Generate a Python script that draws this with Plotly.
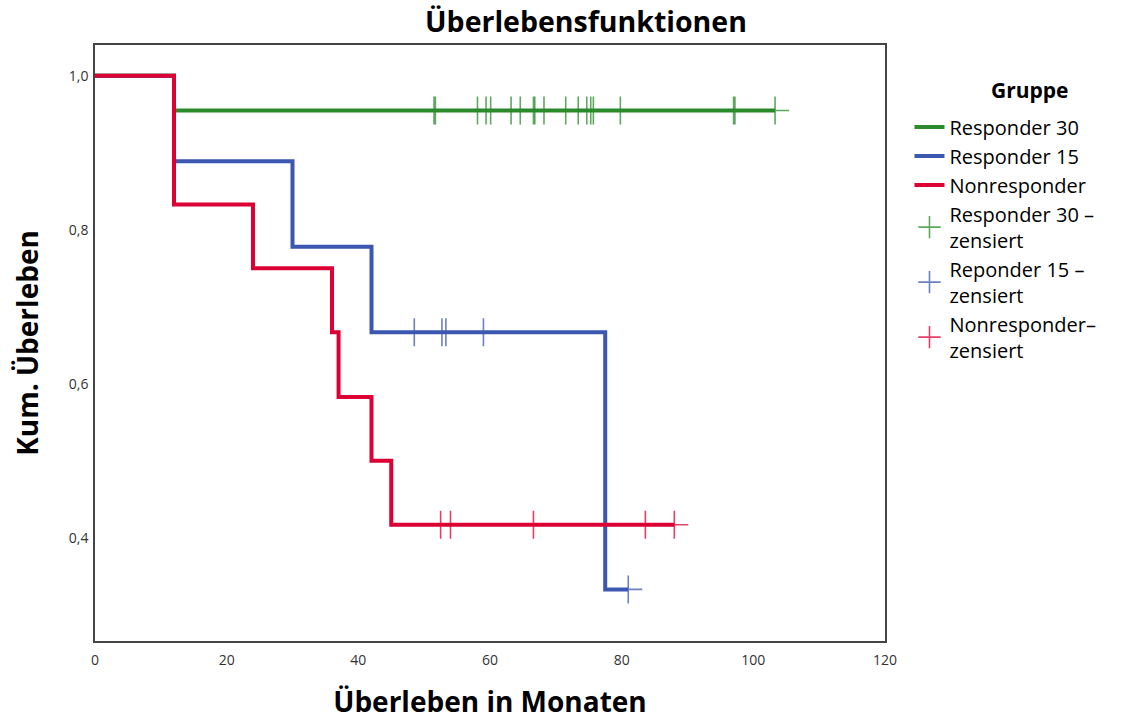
import plotly.graph_objects as go

# ---- data ----
r30_time = [0, 12, 103.3]
r30_surv = [1.0, 0.955, 0.955]
r30_cens_time = [51.5, 51.7, 58.1, 59.4, 60.1, 63.2, 64.6, 66.6, 66.8, 68.2,
                 71.5, 73.4, 74.7, 75.3, 75.7, 79.8, 97.0, 97.2, 103.3]
r30_cens_surv = [0.955] * len(r30_cens_time)

r15_time = [0, 12, 30, 42, 77.5, 81]
r15_surv = [1.0, 0.889, 0.778, 0.667, 0.333, 0.333]
r15_cens_time = [48.5, 52.7, 53.3, 59.0, 81.0]
r15_cens_surv = [0.667, 0.667, 0.667, 0.667, 0.333]

nr_time = [0, 12, 24, 36, 37, 42, 45, 88]
nr_surv = [1.0, 0.833, 0.75, 0.667, 0.583, 0.5, 0.417, 0.417]
nr_cens_time = [52.5, 54.0, 66.6, 83.6, 88.0]
nr_cens_surv = [0.417] * len(nr_cens_time)

x_ticks = [0, 20, 40, 60, 80, 100, 120]
y_ticks = [0.4, 0.6, 0.8, 1.0]
y_ticktext = ["0,4", "0,6", "0,8", "1,0"]

GREEN = "#2b8a2b"
BLUE = "#3c57b0"
RED = "#dc0034"
FONT = "Open Sans"

fig = go.Figure()

# step lines (red drawn last so it is on top, legend order via legendrank)
fig.add_trace(go.Scatter(x=r30_time, y=r30_surv, mode="lines", line_shape="hv",
                         line=dict(color=GREEN, width=4), name="Responder 30",
                         legendrank=1))
fig.add_trace(go.Scatter(x=r15_time, y=r15_surv, mode="lines", line_shape="hv",
                         line=dict(color=BLUE, width=4), name="Responder 15",
                         legendrank=2))
fig.add_trace(go.Scatter(x=nr_time, y=nr_surv, mode="lines", line_shape="hv",
                         line=dict(color=RED, width=4), name="Nonresponder",
                         legendrank=3))

def cens(x, y, color, name, rank):
    return go.Scatter(x=x, y=y, mode="markers", name=name, legendrank=rank,
                      marker=dict(symbol="cross-thin", size=20, opacity=0.75,
                                  line=dict(color=color, width=1.6)))

fig.add_trace(cens(r30_cens_time, r30_cens_surv, GREEN, "Responder 30 –<br>zensiert", 4))
fig.add_trace(cens(r15_cens_time, r15_cens_surv, BLUE, "Reponder 15 –<br>zensiert", 5))
fig.add_trace(cens(nr_cens_time, nr_cens_surv, RED, "Nonresponder–<br>zensiert", 6))

fig.update_layout(
    width=1137, height=720,
    margin=dict(l=95, r=252, t=45, b=79),
    paper_bgcolor="white", plot_bgcolor="white",
    font=dict(family=FONT, color="#222"),
    title=dict(text="<b>Überlebensfunktionen</b>", x=586 / 1137, xref="container",
               xanchor="center", y=1 - 22 / 720, yref="container", yanchor="middle",
               font=dict(size=28.5, color="black")),
    showlegend=True,
    legend=dict(x=1.031, xanchor="left", y=0.895, yanchor="top",
                font=dict(size=20, color="black"),
                tracegroupgap=0, itemwidth=30, bgcolor="rgba(0,0,0,0)"),
    annotations=[dict(text="<b>Gruppe</b>", xref="paper", yref="paper",
                      x=(1030 - 95) / 790, y=1 - (90 - 45) / 596,
                      xanchor="center", yanchor="middle", showarrow=False,
                      font=dict(size=21, color="black"))],
)
fig.update_xaxes(range=[0, 120], tickvals=x_ticks, showgrid=False, zeroline=False,
                 showline=True, linecolor="#444", linewidth=1.5, mirror=True,
                 ticks="", ticklen=0, tickfont=dict(size=14, color="#333"),
                 ticklabelstandoff=5, automargin=False,
                 title=dict(text="<b>Überleben in Monaten</b>", standoff=28,
                            font=dict(size=28, color="black")))
fig.update_yaxes(range=[0.266, 1.04], tickvals=y_ticks, ticktext=y_ticktext,
                 showgrid=False, zeroline=False, showline=True, linecolor="#444",
                 linewidth=1.5, mirror=True, ticks="", tickfont=dict(size=14, color="#333"),
                 ticklabelstandoff=2, automargin=False,
                 title=dict(text="<b>Kum. Überleben</b>", standoff=22,
                            font=dict(size=28, color="black")))

fig.write_html("out.html", config={"displayModeBar": False},
               post_script="document.body.style.margin='0';")
